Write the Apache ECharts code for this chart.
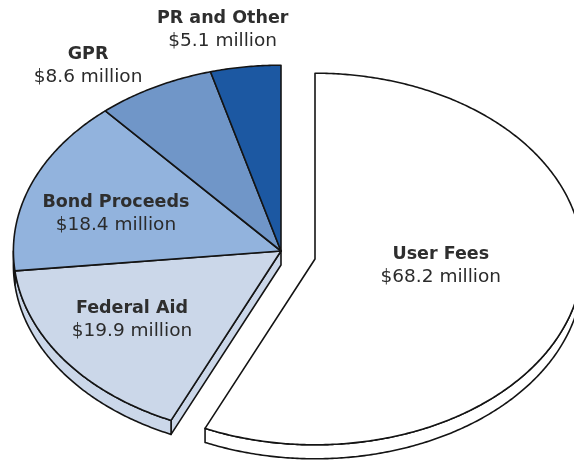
<!DOCTYPE html>
<html><head><meta charset="utf-8">
<script src="https://cdn.jsdelivr.net/npm/echarts@6/dist/echarts.min.js"></script>
<style>html,body{margin:0;padding:0;background:#fff}#c{width:574px;height:463px}</style>
</head><body><div id="c"></div>
<script>
// ---- data ----
const categories = ['User Fees', 'Federal Aid', 'Bond Proceeds', 'GPR', 'PR and Other'];
const values = [68.2, 19.9, 18.4, 8.6, 5.1];
const valueLabels = ['$68.2 million', '$19.9 million', '$18.4 million', '$8.6 million', '$5.1 million'];

// ---- styles / layout ----
const colors = ['#ffffff', '#cbd7e9', '#92b3dd', '#7096c8', '#1c58a2'];
const PIE = { cx: 281, cy: 251, rx: 267.6, ry: 185.8, depth: 14 };
const W = 574, H = 463;
const explodePx = [[34, 8], [0, 0], [0, 0], [0, 0], [0, 0]];
const labelAt = [[0.47, -0.035], [-0.557, -0.371], [-0.617, 0.199], [-0.721, 0.996], [-0.218, 1.19]];

const total = values.reduce((a, b) => a + b, 0);
let acc = 0;
const sliceData = values.map((v, i) => {
  const a0 = acc / total * 360; acc += v;
  return [i, a0, acc / total * 360];
});

const xMin = -PIE.cx / PIE.rx, xMax = (W - PIE.cx) / PIE.rx;
const yMax = PIE.cy / PIE.ry, yMin = -(H - PIE.cy) / PIE.ry;

function mkPt(api, off) {
  return function (theta, r, dy) {
    const t = theta * Math.PI / 180;
    const c = api.coord([r * Math.sin(t), r * Math.cos(t)]);
    return [c[0] + off[0], c[1] + off[1] + (dy || 0)];
  };
}
function arc(pt, a, b, dy) {
  const pts = [];
  const n = Math.max(2, Math.ceil(Math.abs(b - a) / 0.5));
  for (let k = 0; k <= n; k++) pts.push(pt(a + (b - a) * k / n, 1, dy));
  return pts;
}
const strokeStyle = { stroke: '#141414', lineWidth: 1.6, lineJoin: 'round' };
const isExploded = i => explodePx[i][0] !== 0 || explodePx[i][1] !== 0;

function renderSide(params, api) {
  const i = api.value(0), a0 = api.value(1), a1 = api.value(2);
  const pt = mkPt(api, explodePx[i]);
  const children = [];
  const fill = colors[i];
  const n = values.length;
  const prevEx = isExploded((i - 1 + n) % n) || isExploded(i);
  const nextEx = isExploded((i + 1) % n) || isExploded(i);
  if (prevEx && Math.sin(a0 * Math.PI / 180) < -1e-6) {
    children.push({ type: 'polygon', shape: { points: [pt(0, 0), pt(a0, 1), pt(a0, 1, PIE.depth), pt(0, 0, PIE.depth)] },
      style: Object.assign({ fill: fill }, strokeStyle) });
  }
  if (nextEx && Math.sin(a1 * Math.PI / 180) > 1e-6) {
    children.push({ type: 'polygon', shape: { points: [pt(0, 0), pt(a1, 1), pt(a1, 1, PIE.depth), pt(0, 0, PIE.depth)] },
      style: Object.assign({ fill: fill }, strokeStyle) });
  }
  const lo = Math.max(a0, 90), hi = Math.min(a1, 270);
  if (hi > lo) {
    const top = arc(pt, lo, hi, 0);
    const bot = arc(pt, lo, hi, PIE.depth).reverse();
    children.push({ type: 'polygon', shape: { points: top.concat(bot) }, style: Object.assign({ fill: fill }, strokeStyle) });
  }
  return { type: 'group', children: children };
}

function renderTop(params, api) {
  const i = api.value(0), a0 = api.value(1), a1 = api.value(2);
  const off = explodePx[i];
  const pt = mkPt(api, off);
  const pts = [pt(0, 0)].concat(arc(pt, a0, a1, 0));
  const lc = api.coord(labelAt[i]);
  return {
    type: 'group',
    children: [
      { type: 'polygon', shape: { points: pts }, style: Object.assign({ fill: colors[i] }, strokeStyle) },
      { type: 'text', z2: 10,
        style: {
          x: lc[0] + off[0], y: lc[1] + off[1],
          text: '{b|' + categories[i] + '}\n{r|' + valueLabels[i] + '}',
          align: 'center', verticalAlign: 'middle', fill: '#2b2b2b',
          rich: {
            b: { fontFamily: 'DejaVu Sans', fontWeight: 'bold', fontSize: 17.5, lineHeight: 23, fill: '#2e2e2e', align: 'center' },
            r: { fontFamily: 'DejaVu Sans', fontWeight: 'normal', fontSize: 18.5, lineHeight: 23, fill: '#2b2b2b', align: 'center' }
          }
        } }
    ]
  };
}

const chart = echarts.init(document.getElementById('c'), null, { renderer: 'canvas' });
chart.setOption({
  animation: false,
  backgroundColor: '#ffffff',
  grid: { left: 0, right: 0, top: 0, bottom: 0, containLabel: false },
  xAxis: { type: 'value', min: xMin, max: xMax, show: false },
  yAxis: { type: 'value', min: yMin, max: yMax, show: false },
  series: [
    { type: 'custom', name: 'side', renderItem: renderSide, data: sliceData, z: 1, silent: true, clip: false },
    { type: 'custom', name: 'top', renderItem: renderTop, data: sliceData, z: 2, silent: true, clip: false }
  ]
});
</script>
</body></html>
